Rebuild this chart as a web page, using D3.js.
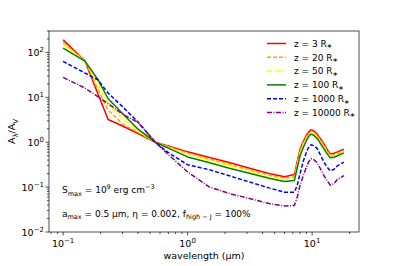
<!DOCTYPE html>
<html>
<head>
<meta charset="utf-8">
<script src="https://cdn.jsdelivr.net/npm/d3@7"></script>
<style>
  body { margin: 0; background: #fff; }
  text { font-family: "DejaVu Sans", sans-serif; fill: #000; }
</style>
</head>
<body>
<div id="chart"></div>
<script>
// wavelength grid (micron)
const wavelength = [0.1, 0.15, 0.19, 0.23, 0.3, 0.4, 0.55, 0.7, 1.0, 1.5, 2.2, 3.2, 4.5, 6.0, 7.2, 7.6, 8.0, 8.5, 9.0, 9.4, 9.8, 10.3, 11.0, 12.5, 13.2, 14.0, 15.0, 16.0, 18.0];

const z3     = [190, 64, 12, 3.2, 2.3, 1.56, 1.0, 0.82, 0.61, 0.455, 0.35, 0.26, 0.20, 0.171, 0.19, 0.38, 0.70, 1.05, 1.43, 1.72, 1.88, 1.8, 1.5, 0.90, 0.68, 0.55, 0.57, 0.61, 0.70];
const z20    = [167, 64, 15, 5.2, 2.55, 1.65, 1.0, 0.80, 0.57, 0.42, 0.32, 0.24, 0.185, 0.158, 0.17, 0.35, 0.64, 0.97, 1.32, 1.58, 1.73, 1.66, 1.38, 0.83, 0.63, 0.51, 0.52, 0.56, 0.65];
const z50    = [150, 65, 20, 7.2, 3.4, 1.8, 1.0, 0.78, 0.53, 0.385, 0.295, 0.22, 0.17, 0.146, 0.155, 0.32, 0.59, 0.89, 1.22, 1.46, 1.6, 1.53, 1.28, 0.77, 0.58, 0.47, 0.485, 0.52, 0.6];
const z100   = [125, 64, 25, 9.3, 4.35, 1.95, 1.0, 0.74, 0.47, 0.35, 0.26, 0.20, 0.157, 0.133, 0.14, 0.27, 0.50, 0.77, 1.08, 1.36, 1.51, 1.43, 1.2, 0.70, 0.55, 0.45, 0.46, 0.50, 0.58];
const z1000  = [63, 34.7, 24.6, 12.4, 6.2, 2.8, 1.0, 0.585, 0.315, 0.243, 0.176, 0.128, 0.096, 0.077, 0.077, 0.11, 0.20, 0.38, 0.60, 0.78, 0.88, 0.84, 0.72, 0.35, 0.28, 0.228, 0.25, 0.30, 0.36];
const z10000 = [27.8, 16, 10.4, 7.2, 4.2, 2.75, 1.0, 0.53, 0.217, 0.10, 0.071, 0.055, 0.043, 0.038, 0.039, 0.06, 0.11, 0.18, 0.277, 0.37, 0.43, 0.41, 0.35, 0.177, 0.14, 0.11, 0.12, 0.15, 0.18];

const seriesNames = ["3", "20", "50", "100", "1000", "10000"];
const seriesValues = [z3, z20, z50, z100, z1000, z10000];
const seriesColors = ["#ff0000", "#ffa500", "#ffff00", "#008000", "#0000ff", "#800080"];
const seriesDash = [null, "4,2", "5,1.5,1,1.5", null, "4,2", "5,1.5,1,1.5"];

const xMajor = [0.1, 1, 10];
const yMajor = [0.01, 0.1, 1, 10, 100];

const W = 399, H = 266;
const m = { left: 49, right: 40, top: 31, bottom: 34 };

const svg = d3.select("#chart").append("svg")
    .attr("width", W)
    .attr("height", H);

const x = d3.scaleLog().domain([0.077, 23.8]).range([m.left, W - m.right]);
const y = d3.scaleLog().domain([0.01, 300]).range([H - m.bottom, m.top]);

const fmtPow = (g, v) => {
    const e = Math.round(Math.log10(v));
    g.text("10");
    g.append("tspan").attr("dy", -4).attr("font-size", 7).text(e < 0 ? "\u2212" + (-e) : e);
};

// minor ticks
const minor = (dom) => {
    const out = [];
    for (let d = -3; d <= 3; d++) {
        for (let k = 2; k <= 9; k++) {
            const v = k * Math.pow(10, d);
            if (v >= dom[0] && v <= dom[1]) out.push(v);
        }
    }
    return out;
};

const axisG = svg.append("g").attr("stroke", "#222").attr("stroke-width", 0.8);
minor(x.domain()).forEach(v => {
    axisG.append("line").attr("x1", x(v)).attr("x2", x(v))
        .attr("y1", H - m.bottom).attr("y2", H - m.bottom + 2);
});
xMajor.forEach(v => {
    axisG.append("line").attr("x1", x(v)).attr("x2", x(v))
        .attr("y1", H - m.bottom).attr("y2", H - m.bottom + 3.5);
});
minor(y.domain()).forEach(v => {
    axisG.append("line").attr("y1", y(v)).attr("y2", y(v))
        .attr("x1", m.left).attr("x2", m.left - 2);
});
yMajor.forEach(v => {
    axisG.append("line").attr("y1", y(v)).attr("y2", y(v))
        .attr("x1", m.left).attr("x2", m.left - 3.5);
});

xMajor.forEach(v => {
    const t = svg.append("text").attr("x", x(v)).attr("y", H - m.bottom + 15)
        .attr("text-anchor", "middle").attr("font-size", 9.5);
    fmtPow(t, v);
});
yMajor.forEach(v => {
    const t = svg.append("text").attr("x", m.left - 5).attr("y", y(v) + 3.5)
        .attr("text-anchor", "end").attr("font-size", 9.5);
    fmtPow(t, v);
});

// axis labels
svg.append("text").attr("x", (m.left + W - m.right) / 2).attr("y", 259)
    .attr("text-anchor", "middle").attr("font-size", 9.5).text("wavelength (\u03bcm)");

const yl = svg.append("text")
    .attr("transform", `translate(15,${(m.top + H - m.bottom) / 2}) rotate(-90)`)
    .attr("text-anchor", "middle").attr("font-size", 9.5);
yl.append("tspan").text("A");
yl.append("tspan").attr("dy", 2.5).attr("font-size", 7).text("\u03bb");
yl.append("tspan").attr("dy", -2.5).text("/A");
yl.append("tspan").attr("dy", 2.5).attr("font-size", 7).text("V");

// lines
svg.append("clipPath").attr("id", "clip").append("rect")
    .attr("x", m.left).attr("y", m.top)
    .attr("width", W - m.left - m.right).attr("height", H - m.top - m.bottom);

const line = d3.line()
    .x((d, i) => x(wavelength[i]))
    .y(d => y(d));

const linesG = svg.append("g").attr("clip-path", "url(#clip)");
seriesValues.forEach((vals, i) => {
    linesG.append("path")
        .attr("d", line(vals))
        .attr("fill", "none")
        .attr("stroke", seriesColors[i])
        .attr("stroke-width", 1.5)
        .attr("stroke-linejoin", "round")
        .attr("stroke-dasharray", seriesDash[i]);
});

// frame
svg.append("rect").attr("x", m.left).attr("y", m.top)
    .attr("width", W - m.left - m.right).attr("height", H - m.top - m.bottom)
    .attr("fill", "none").attr("stroke", "#222").attr("stroke-width", 0.8);

// legend
const lg = svg.append("g");
seriesNames.forEach((n, i) => {
    const ly = 43.5 + i * 13.8;
    lg.append("line").attr("x1", 267).attr("x2", 286).attr("y1", ly).attr("y2", ly)
        .attr("stroke", seriesColors[i]).attr("stroke-width", 1.5)
        .attr("stroke-dasharray", seriesDash[i]);
    const t = lg.append("text").attr("x", 294).attr("y", ly + 3.3).attr("font-size", 9);
    t.append("tspan").text(`z = ${n} R`);
    t.append("tspan").attr("dy", 1.5).attr("font-size", 6.5).text("\u2217");
});

// annotations
const a1 = svg.append("text").attr("x", 62).attr("y", 193).attr("font-size", 9);
a1.append("tspan").text("S");
a1.append("tspan").attr("dy", 2.5).attr("font-size", 6.5).text("max");
a1.append("tspan").attr("dy", -2.5).text(" = 10");
a1.append("tspan").attr("dy", -4).attr("font-size", 6.5).text("9");
a1.append("tspan").attr("dy", 4).text(" erg cm");
a1.append("tspan").attr("dy", -4).attr("font-size", 6.5).text("\u22123");

const a2 = svg.append("text").attr("x", 62).attr("y", 216.5).attr("font-size", 9);
a2.append("tspan").text("a");
a2.append("tspan").attr("dy", 2.5).attr("font-size", 6.5).text("max");
a2.append("tspan").attr("dy", -2.5).text(" = 0.5 \u03bcm, \u03b7 = 0.002, f");
a2.append("tspan").attr("dy", 2.5).attr("font-size", 6.5).text("high \u2212 J");
a2.append("tspan").attr("dy", -2.5).text(" = 100%");
</script>
</body>
</html>
